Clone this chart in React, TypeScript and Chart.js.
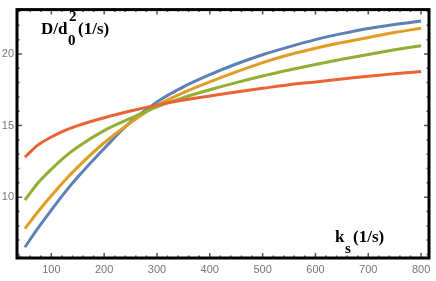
import React, { useEffect, useRef } from "react";
import { Chart, registerables } from "chart.js";

Chart.register(...registerables);

const ks = [50, 75, 100, 125, 150, 200, 250, 300, 350, 400, 450, 500, 550, 600, 650, 700, 750, 800];
const blueSeries = [6.5, 7.85, 9.1, 10.3, 11.4, 13.4, 15.25, 16.65, 17.7, 18.55, 19.3, 19.95, 20.5, 21.0, 21.42, 21.78, 22.06, 22.3];
const orangeSeries = [7.8, 9.0, 10.1, 11.15, 12.1, 13.8, 15.2, 16.4, 17.3, 18.05, 18.75, 19.4, 19.95, 20.4, 20.8, 21.15, 21.5, 21.8];
const greenSeries = [9.8, 11.0, 11.95, 12.8, 13.5, 14.65, 15.5, 16.3, 16.95, 17.5, 18.0, 18.46, 18.88, 19.27, 19.63, 19.97, 20.29, 20.58];
const redSeries = [12.8, 13.65, 14.2, 14.65, 15.0, 15.55, 16.02, 16.43, 16.78, 17.07, 17.35, 17.6, 17.85, 18.05, 18.25, 18.45, 18.62, 18.78];

const xTicks = [100, 200, 300, 400, 500, 600, 700, 800];
const yTicks = [10, 15, 20];
const xMinorStep = 20;
const yMinorStep = 1;

const X_MIN = 35;
const X_MAX = 815;
const Y_MIN = 5.75;
const Y_MAX = 23.1;

const framePlugin = {
  id: "framePlugin",
  afterDatasetsDraw(chart: any) {
    const { ctx, chartArea } = chart;
    const xs = chart.scales.x;
    const ys = chart.scales.y;
    const { left, right, top, bottom } = chartArea;
    ctx.save();
    ctx.strokeStyle = "#555";
    ctx.lineWidth = 1.5;
    const drawX = (v: number, len: number) => {
      const px = xs.getPixelForValue(v);
      ctx.beginPath();
      ctx.moveTo(px, bottom);
      ctx.lineTo(px, bottom - len);
      ctx.moveTo(px, top);
      ctx.lineTo(px, top + len);
      ctx.stroke();
    };
    const drawY = (v: number, len: number) => {
      const py = ys.getPixelForValue(v);
      ctx.beginPath();
      ctx.moveTo(left, py);
      ctx.lineTo(left + len, py);
      ctx.moveTo(right, py);
      ctx.lineTo(right - len, py);
      ctx.stroke();
    };
    for (let v = 40; v <= X_MAX; v += xMinorStep) {
      if (xTicks.indexOf(v) >= 0) drawX(v, 5);
      else drawX(v, 2.5);
    }
    for (let v = 6; v <= 23; v += yMinorStep) {
      if (yTicks.indexOf(v) >= 0) drawY(v, 5);
      else drawY(v, 2.5);
    }
    ctx.strokeStyle = "#000";
    ctx.lineWidth = 3;
    ctx.strokeRect(left, top, right - left, bottom - top);

    ctx.fillStyle = "#000";
    ctx.textBaseline = "alphabetic";
    ctx.textAlign = "left";
    const big = "bold 17px 'Liberation Serif', 'DejaVu Serif', serif";
    const small = "bold 15px 'Liberation Serif', 'DejaVu Serif', serif";
    ctx.font = big;
    ctx.fillText("D/d", 41, 34);
    ctx.font = small;
    ctx.fillText("0", 68, 45);
    ctx.fillText("2", 69, 21);
    ctx.font = big;
    ctx.fillText("(1/s)", 78, 34);

    ctx.font = big;
    ctx.fillText("k", 335, 242);
    ctx.font = small;
    ctx.fillText("s", 345, 253);
    ctx.font = big;
    ctx.fillText("(1/s)", 353, 242);
    ctx.restore();
  },
};

export default function App() {
  const ref = useRef<HTMLCanvasElement | null>(null);
  useEffect(() => {
    document.body.style.margin = "0";
    if (!ref.current) return;
    const mk = (vals: number[], color: string, order: number) => ({
      data: ks.map((k, i) => ({ x: k, y: vals[i] })),
      borderColor: color,
      backgroundColor: color,
      borderWidth: 3,
      pointRadius: 0,
      tension: 0.4,
      cubicInterpolationMode: "monotone" as const,
      fill: false,
      order,
    });
    const tickFont = { family: "'Liberation Sans', Arial, sans-serif", size: 11 };
    const chart = new Chart(ref.current, {
      type: "line",
      data: {
        datasets: [
          mk(blueSeries, "#5E81B5", 4),
          mk(orangeSeries, "#E19C24", 3),
          mk(greenSeries, "#8FB032", 2),
          mk(redSeries, "#EB6235", 1),
        ],
      },
      options: {
        animation: false,
        responsive: false,
        maintainAspectRatio: false,
        layout: { padding: { top: 5, right: 7, left: 0, bottom: 0 } },
        plugins: { legend: { display: false }, tooltip: { enabled: false } },
        scales: {
          x: {
            type: "linear",
            min: X_MIN,
            max: X_MAX,
            grid: { display: false, drawTicks: false },
            border: { display: false },
            ticks: { color: "#777", font: tickFont, padding: 5, maxRotation: 0 },
            afterBuildTicks: (s: any) => {
              s.ticks = xTicks.map((v) => ({ value: v }));
            },
            afterFit: (s: any) => {
              s.height = 23;
            },
          },
          y: {
            type: "linear",
            min: Y_MIN,
            max: Y_MAX,
            grid: { display: false, drawTicks: false },
            border: { display: false },
            ticks: { color: "#777", font: tickFont, padding: 3 },
            afterBuildTicks: (s: any) => {
              s.ticks = yTicks.map((v) => ({ value: v }));
            },
            afterFit: (s: any) => {
              s.width = 17;
            },
          },
        },
      },
      plugins: [framePlugin],
    });
    return () => chart.destroy();
  }, []);
  return (
    <div style={{ position: "fixed", left: 0, top: 0, width: 436, height: 281, background: "#fff" }}>
      <canvas ref={ref} width={436} height={281} style={{ width: 436, height: 281 }} />
    </div>
  );
}
